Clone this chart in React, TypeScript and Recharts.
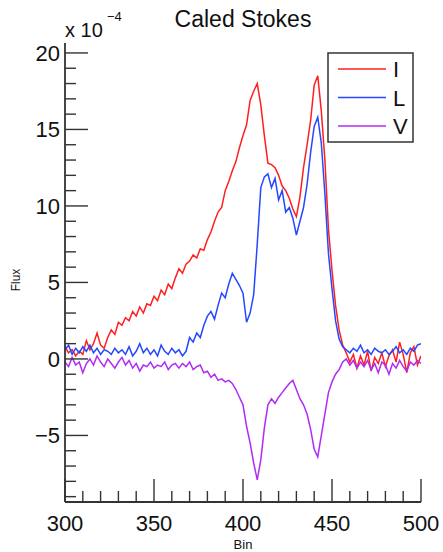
import React from "react";
import { LineChart, Line, XAxis, YAxis } from "recharts";

// Sample positions (bins), every 2 bins from 300 to 500
const BINS = Array.from({ length: 101 }, (_, i) => 300 + i * 2);

const FLUX_I = [
  0.8, 0.4, 0.6, 0.2, 0.5, 0.3, 1.2, 0.6, 1.0, 1.7,
  0.9, 0.7, 1.4, 1.9, 1.6, 2.4, 2.2, 2.7, 2.5, 3.1,
  2.8, 3.4, 3.0, 3.6, 3.5, 4.1, 3.8, 4.5, 4.2, 4.9,
  4.6, 5.3, 5.9, 5.6, 6.2, 6.4, 6.8, 6.6, 7.2, 7.1,
  7.8, 8.3, 9.0, 9.6, 9.9, 11.0, 11.6, 12.3, 12.9, 13.8,
  14.6, 15.3, 16.9, 17.5, 18.0, 16.6, 14.6, 12.8, 12.7, 12.5,
  12.0, 11.3, 11.0, 10.5, 9.8, 9.3, 10.6, 12.5, 14.0, 15.6,
  17.9, 18.5, 16.2, 13.0, 8.5, 5.8, 3.5, 1.9, 0.9, 0.4,
  -0.2, 0.3, -0.6, 0.2, -0.4, 0.5, -0.8, 0.1, -0.3, 0.4,
  -0.5, 0.2, 0.6, -0.2, 1.1, 0.3, -0.9, 0.4, 0.8, -0.4,
  0.2,
];

const FLUX_L = [
  0.6, 0.9, 0.3, 0.7, 0.4, 0.8, 0.5, 0.9, 0.4, 0.7,
  0.3, 0.6, 0.5, 0.3, 0.7, 0.4, 0.6, 0.3, 0.8, 0.2,
  0.5, 1.0, 0.4, 0.7, 0.3, 0.6, 0.2, 0.9, 0.5, 0.3,
  0.7, 0.4, 0.6, 0.2, 0.5, 1.4, 1.1, 1.7, 1.4, 2.2,
  2.8, 3.1, 2.6, 3.5, 4.3, 4.0, 4.9, 5.6, 5.2, 4.8,
  4.3, 2.4, 3.0, 4.2, 7.5, 11.2, 11.9, 12.1, 11.2, 11.8,
  10.4, 11.0, 9.6, 9.9, 9.2, 8.1, 9.0, 9.9, 11.4, 13.5,
  15.2, 15.8, 14.1, 10.8, 6.9, 4.6, 2.5, 1.3, 0.8, 0.6,
  0.4, 0.7, 0.5, 0.9, 0.4, 0.6, 0.3, 0.7, 0.5, 0.4,
  0.6, 0.3, 0.5, 0.8, 0.4, 0.6, 0.3, 0.7, 0.5, 0.9,
  1.0,
];

const FLUX_V = [
  -0.2, -0.5, 0.1, -0.4, -0.2, -0.9, -0.3, 0.0, -0.4, 0.2,
  -0.2, -0.5, 0.0, -0.3, -0.6, -0.2, 0.1, -0.4, -0.1, -0.6,
  -0.3, -0.8, -0.4, -0.5, -0.2, -0.6, -0.4, -0.5, -0.2, -0.7,
  -0.4, -0.3, -0.6, -0.3, -0.5, -0.2, -0.7, -0.5, -0.4, -0.9,
  -0.8, -1.2, -1.0, -1.4, -1.3, -1.5, -1.4, -1.6, -2.0, -2.5,
  -3.0, -4.4, -5.5, -6.8, -7.9, -6.6, -4.5, -3.0, -2.6, -2.9,
  -2.5, -2.2, -1.9, -1.6, -1.4, -2.0, -2.6, -3.0, -3.6, -4.6,
  -5.9, -6.4, -5.0, -3.6, -2.2, -1.5, -1.0, -0.7, -0.2, 0.0,
  -0.4, -0.1, -0.6, -0.2, -0.5, -0.1, -0.7, -0.3, -0.9, -0.2,
  -0.4, -1.0, -0.3, -0.6, -0.1, -0.5, -0.8, -0.2, -0.4, -0.1,
  -0.3,
];

const X_TICKS = [
  300, 310, 320, 330, 340, 350, 360, 370, 380, 390, 400,
  410, 420, 430, 440, 450, 460, 470, 480, 490, 500,
];
const Y_TICKS = [
  -9, -8, -7, -6, -5, -4, -3, -2, -1, 0, 1, 2, 3, 4, 5, 6, 7, 8, 9, 10,
  11, 12, 13, 14, 15, 16, 17, 18, 19, 20,
];

const SERIES = [
  { key: "I", name: "I", color: "#ff1f1f", values: FLUX_I },
  { key: "L", name: "L", color: "#2448ff", values: FLUX_L },
  { key: "V", name: "V", color: "#b02cf4", values: FLUX_V },
];

const data = BINS.map((bin, i) => {
  const row: Record<string, number> = { bin };
  SERIES.forEach((s) => {
    row[s.key] = s.values[i];
  });
  return row;
});

const FONT = "'Liberation Sans', Arial, Helvetica, sans-serif";
const AXIS_COLOR = "#333";
const MAJOR = 23;
const MINOR = 11;

const fmt = (v: number) => (v < 0 ? "\u2212" + Math.abs(v) : String(v));

const makeXTick = (side: "top" | "bottom") => (props: any) => {
  const { x, y, payload } = props;
  const v = payload.value as number;
  const major = v % 50 === 0;
  const len = major ? MAJOR : MINOR;
  const dir = side === "top" ? 1 : -1;
  return (
    <g>
      <line x1={x} x2={x} y1={y} y2={y + dir * len} stroke={AXIS_COLOR} strokeWidth={1.4} />
      {side === "bottom" && major ? (
        <text x={x} y={y + 29} textAnchor="middle" fontFamily={FONT} fontSize={22} fill="#111">
          {fmt(v)}
        </text>
      ) : null}
    </g>
  );
};

const makeYTick = (side: "left" | "right") => (props: any) => {
  const { x, y, payload } = props;
  const v = payload.value as number;
  const major = v % 5 === 0;
  const len = major ? MAJOR : MINOR;
  const dir = side === "left" ? 1 : -1;
  return (
    <g>
      <line x1={x} x2={x + dir * len} y1={y} y2={y} stroke={AXIS_COLOR} strokeWidth={1.4} />
      {side === "left" && major ? (
        <text x={x - 5} y={y + 8} textAnchor="end" fontFamily={FONT} fontSize={22} fill="#111">
          {fmt(v)}
        </text>
      ) : null}
    </g>
  );
};

export default function App() {
  return (
    <div style={{ position: "absolute", left: 0, top: 0, width: 443, height: 552, background: "#fff" }}>
      <LineChart
        width={443}
        height={552}
        data={data}
        margin={{ top: 43, right: 22, bottom: 0, left: 0 }}
      >
        <XAxis
          xAxisId="bottom"
          dataKey="bin"
          type="number"
          domain={[300, 500]}
          ticks={X_TICKS}
          interval={0}
          allowDataOverflow
          height={50}
          tickSize={0}
          tickMargin={0}
          tickLine={false}
          axisLine={{ stroke: AXIS_COLOR, strokeWidth: 1.8 }}
          tick={makeXTick("bottom")}
        />
        <XAxis
          xAxisId="top"
          orientation="top"
          dataKey="bin"
          type="number"
          domain={[300, 500]}
          ticks={X_TICKS}
          interval={0}
          allowDataOverflow
          height={0}
          tickSize={0}
          tickMargin={0}
          tickLine={false}
          axisLine={{ stroke: AXIS_COLOR, strokeWidth: 1.8 }}
          tick={makeXTick("top")}
        />
        <YAxis
          yAxisId="left"
          type="number"
          domain={[-9.35, 20.65]}
          ticks={Y_TICKS}
          interval={0}
          allowDataOverflow
          width={65}
          tickSize={0}
          tickMargin={0}
          tickLine={false}
          axisLine={{ stroke: AXIS_COLOR, strokeWidth: 1.8 }}
          tick={makeYTick("left")}
        />
        <YAxis
          yAxisId="right"
          orientation="right"
          type="number"
          domain={[-9.35, 20.65]}
          ticks={Y_TICKS}
          interval={0}
          allowDataOverflow
          width={0}
          tickSize={0}
          tickMargin={0}
          tickLine={false}
          axisLine={{ stroke: AXIS_COLOR, strokeWidth: 1.8 }}
          tick={makeYTick("right")}
        />
        {SERIES.map((s) => (
          <Line
            key={s.key}
            xAxisId="bottom"
            yAxisId="left"
            type="linear"
            dataKey={s.key}
            name={s.name}
            stroke={s.color}
            strokeWidth={1.5}
            dot={false}
            activeDot={false}
            isAnimationActive={false}
          />
        ))}
      </LineChart>

      {/* Titles and labels */}
      <svg
        width={443}
        height={552}
        style={{ position: "absolute", left: 0, top: 0, pointerEvents: "none" }}
      >
        <text x={243} y={27} textAnchor="middle" fontFamily={FONT} fontSize={23} fill="#111">
          Caled Stokes
        </text>
        <text x={65} y={37} fontFamily={FONT} fontSize={20} fill="#111">
          x 10
        </text>
        <text x={107} y={21} fontFamily={FONT} fontSize={13} fill="#111">
          {"\u22124"}
        </text>
        <text
          x={20}
          y={280}
          textAnchor="middle"
          fontFamily={FONT}
          fontSize={12}
          fill="#111"
          transform="rotate(-90 20 280)"
        >
          Flux
        </text>
        <text x={243} y={549} textAnchor="middle" fontFamily={FONT} fontSize={13} fill="#111">
          Bin
        </text>

        {/* Legend */}
        <rect x={328} y={53} width={85} height={89} fill="#fff" stroke={AXIS_COLOR} strokeWidth={1.5} />
        {SERIES.map((s, i) => (
          <g key={s.key}>
            <line x1={338} x2={386} y1={69 + i * 28.5} y2={69 + i * 28.5} stroke={s.color} strokeWidth={1.5} />
            <text x={393} y={69 + i * 28.5 + 8} fontFamily={FONT} fontSize={22} fill="#111">
              {s.name}
            </text>
          </g>
        ))}
      </svg>
    </div>
  );
}
